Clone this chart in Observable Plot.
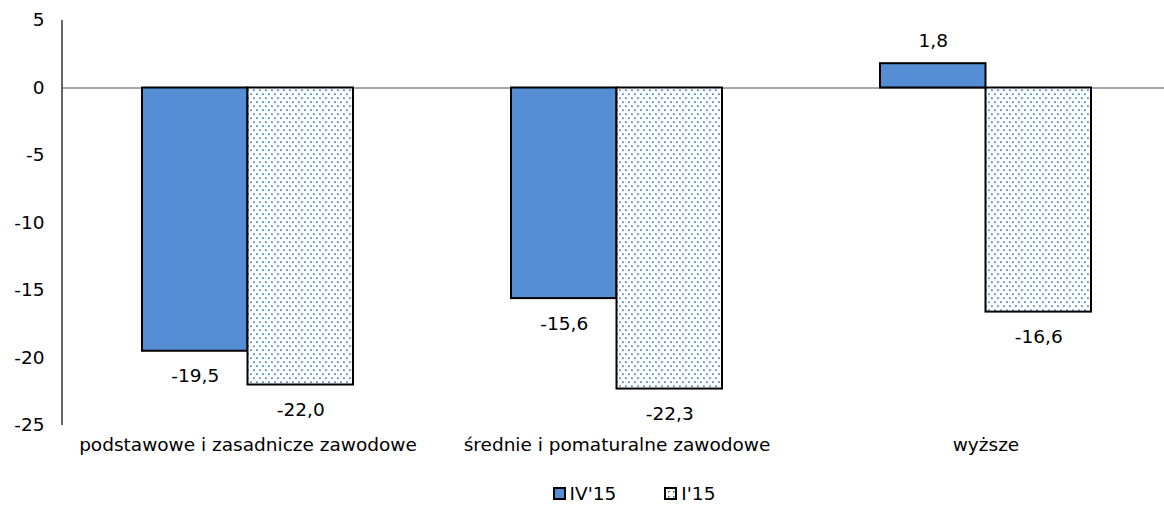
<!DOCTYPE html>
<html><head><meta charset="utf-8">
<script src="https://cdn.jsdelivr.net/npm/d3@7"></script>
<script src="https://cdn.jsdelivr.net/npm/@observablehq/plot@0.6"></script>
<style>
body{margin:0;background:#fff;font-family:"DejaVu Sans",sans-serif;}
#legend{display:flex;justify-content:center;gap:48px;font-size:18.5px;color:#000;margin-top:18px;padding-left:104px}
.item{display:flex;align-items:center;gap:4px}
.sw{width:9px;height:9px;border:2px solid #000}
</style></head><body>
<div id="chart"></div>
<div id="legend"></div>
<script>
const categories = ["podstawowe i zasadnicze zawodowe", "średnie i pomaturalne zawodowe", "wyższe"];
const series = ["IV'15", "I'15"];
const iv15 = [-19.5, -15.6, 1.8];
const i15 = [-22.0, -22.3, -16.6];
const yTicks = [5, 0, -5, -10, -15, -20, -25];

const blue = "#558ED5";
const data = [];
categories.forEach((c, i) => {
  data.push({cat: c, s: series[0], v: iv15[i]});
  data.push({cat: c, s: series[1], v: i15[i]});
});
const fmt = v => v.toFixed(1).replace(".", ",");
const half = 105.5;
const ff = '"DejaVu Sans",sans-serif';
const fs = 18.5;

const plot = Plot.plot({
  width: 1164, height: 465,
  marginLeft: 62, marginRight: 0, marginTop: 20, marginBottom: 40,
  style: {fontFamily: ff, fontSize: fs + "px", color: "#000", background: "#fff"},
  x: {domain: categories, paddingInner: 0.429, paddingOuter: 0.206, align: 0.524, label: null, tickSize: 0, tickPadding: 12},
  y: {domain: [-25, 5], ticks: yTicks, label: null, tickSize: 0, tickPadding: 18, tickFormat: d => String(d)},
  marks: [
    Plot.ruleY([0], {stroke: "#888", strokeWidth: 1.5}),
    Plot.barY(data.filter(d => d.s === series[0]), {x: "cat", y: "v", fill: blue, stroke: "#000", strokeWidth: 2, insetRight: half}),
    Plot.barY(data.filter(d => d.s === series[1]), {x: "cat", y: "v", fill: "url(#dots)", stroke: "#000", strokeWidth: 2, insetLeft: half}),
    Plot.text(data.filter(d => d.s === series[0] && d.v < 0), {x: "cat", y: "v", text: d => fmt(d.v), dx: -half/2, dy: 25, fill: "#000", fontSize: fs}),
    Plot.text(data.filter(d => d.s === series[0] && d.v >= 0), {x: "cat", y: "v", text: d => fmt(d.v), dx: -half/2, dy: -23, fill: "#000", fontSize: fs}),
    Plot.text(data.filter(d => d.s === series[1] && d.v < 0), {x: "cat", y: "v", text: d => fmt(d.v), dx: half/2, dy: 25, fill: "#000", fontSize: fs}),
    Plot.text(data.filter(d => d.s === series[1] && d.v >= 0), {x: "cat", y: "v", text: d => fmt(d.v), dx: half/2, dy: -23, fill: "#000", fontSize: fs})
  ]
});

// pattern defs
const svg = d3.select(plot);
const defs = svg.insert("defs", ":first-child");
const pat = defs.append("pattern").attr("id", "dots").attr("patternUnits", "userSpaceOnUse")
  .attr("width", 6).attr("height", 8);
pat.append("rect").attr("width", 6).attr("height", 8).attr("fill", "#fff");
pat.append("rect").attr("x", 1).attr("y", 1.3).attr("width", 1.8).attr("height", 1.8).attr("fill", blue);
pat.append("rect").attr("x", 4).attr("y", 5.3).attr("width", 1.8).attr("height", 1.8).attr("fill", blue);

// y axis line from scale
const ys = plot.scale("y");
const [y0, y1] = ys.range;
svg.append("line").attr("x1", 62).attr("x2", 62).attr("y1", y0).attr("y2", y1).attr("stroke", "#000").attr("stroke-width", 1.2);

document.getElementById("chart").appendChild(plot);

const leg = document.getElementById("legend");
series.forEach((s, i) => {
  const it = document.createElement("div"); it.className = "item";
  const sw = document.createElement("div"); sw.className = "sw";
  if (i === 0) sw.style.background = blue;
  else { sw.style.background = "#fff"; sw.style.backgroundImage = `radial-gradient(${blue} 1px, transparent 1px)`; sw.style.backgroundSize = "5px 5px"; }
  const t = document.createElement("span"); t.textContent = s;
  it.appendChild(sw); it.appendChild(t); leg.appendChild(it);
});
</script>
</body></html>
